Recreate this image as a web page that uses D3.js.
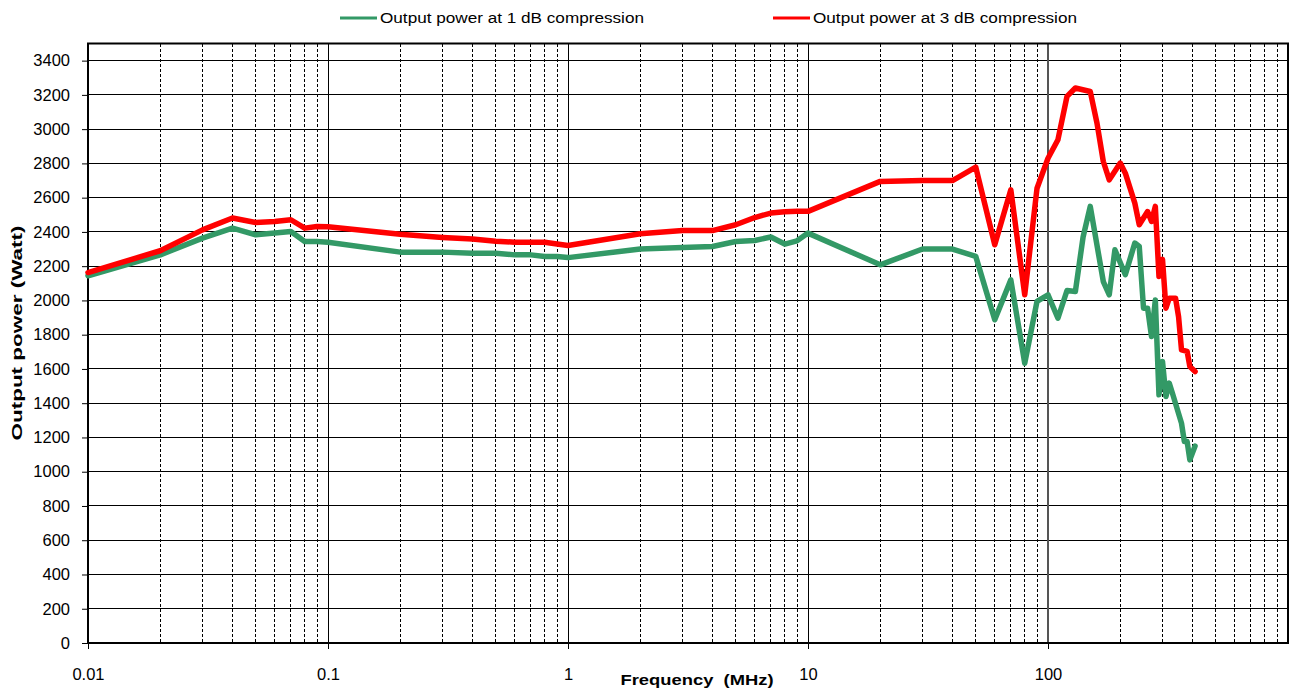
<!DOCTYPE html>
<html>
<head>
<meta charset="utf-8">
<script src="https://cdn.jsdelivr.net/npm/d3@7"></script>
<style>
  body { margin: 0; background: #fff; }
  text { font-family: "Liberation Sans", Arial, sans-serif; }
</style>
</head>
<body>
<div id="my_dataviz"></div>
<script>
  // data (frequency in MHz, power in Watt)
  const freq1dB = [0.01, 0.02, 0.03, 0.04, 0.05, 0.06, 0.07, 0.08, 0.09, 0.1,
    0.2, 0.3, 0.4, 0.5, 0.6, 0.7, 0.8, 0.9, 1, 2, 3, 4, 5, 6, 7, 8, 9, 10,
    20, 30, 40, 50, 60, 70, 80, 90, 100, 110, 120, 130, 140, 150, 170, 180, 190,
    210, 230, 240, 250, 260, 270, 280, 290, 300, 310, 320, 330, 360, 370, 380, 390, 410]
  const power1dB = [2144, 2266, 2364, 2422, 2383, 2393, 2403, 2344, 2344, 2340,
    2282, 2282, 2276, 2276, 2266, 2266, 2257, 2257, 2250, 2300, 2309, 2315, 2344, 2350, 2370, 2329, 2348, 2393,
    2208, 2300, 2300, 2257, 1887, 2120, 1633, 1995, 2033, 1896, 2058, 2052, 2370, 2549, 2110, 2033, 2296,
    2150, 2335, 2315, 1955, 1955, 1789, 2003, 1449, 1643, 1439, 1517, 1458, 1283, 1176, 1176, 1069, 1150]

  const freq3dB = [0.01, 0.02, 0.03, 0.04, 0.05, 0.06, 0.07, 0.08, 0.09, 0.1,
    0.2, 0.3, 0.4, 0.5, 0.6, 0.7, 0.8, 0.9, 1, 2, 3, 4, 5, 6, 7, 8, 9, 10,
    20, 30, 40, 50, 60, 70, 80, 90, 100, 110, 120, 130, 150, 160, 170, 180,
    200, 210, 230, 240, 260, 270, 280, 290, 300, 310, 320, 340, 350, 360, 380, 390, 410]
  const power3dB = [2163, 2290, 2412, 2481, 2455, 2461, 2471, 2422, 2432, 2430,
    2387, 2368, 2358, 2346, 2340, 2340, 2340, 2330, 2321, 2389, 2408, 2408, 2442, 2484, 2510, 2518, 2520, 2520,
    2695, 2700, 2700, 2778, 2325, 2646, 2033, 2655, 2830, 2938, 3191, 3240, 3220, 3035, 2811, 2704,
    2802, 2743, 2568, 2442, 2519, 2461, 2549, 2140, 2240, 1955, 2013, 2013, 1905, 1711, 1702, 1614, 1585]

  const seriesNames = ["Output power at 1 dB compression", "Output power at 3 dB compression"]
  const seriesColors = ["#339966", "#ff0000"]

  const xTickValues = [0.01, 0.1, 1, 10, 100]
  const xTickLabels = ["0.01", "0.1", "1", "10", "100"]
  const yTickValues = [0, 200, 400, 600, 800, 1000, 1200, 1400, 1600, 1800, 2000,
    2200, 2400, 2600, 2800, 3000, 3200, 3400]

  // set the dimensions and margins of the graph
  const margin = { top: 43.5, right: 2, bottom: 45, left: 88 },
    width = 1290 - margin.left - margin.right,
    height = 688 - margin.top - margin.bottom;

  const root = d3.select("#my_dataviz")
    .append("svg")
    .attr("width", 1290)
    .attr("height", 688)

  const svg = root.append("g")
    .attr("transform", `translate(${margin.left},${margin.top})`);

  const x = d3.scaleLog()
    .domain([0.01, 1000])
    .range([0, width]);

  const y = d3.scaleLinear()
    .domain([0, 3500])
    .range([height, 0]);

  // horizontal grid
  svg.append("g")
    .attr("shape-rendering", "crispEdges")
    .selectAll("line")
    .data(yTickValues.filter(d => d > 0))
    .join("line")
    .attr("x1", 0).attr("x2", width)
    .attr("y1", d => y(d)).attr("y2", d => y(d))
    .attr("stroke", "#000")
    .attr("stroke-width", 1);

  // vertical grid: dashed minor lines, solid at decades
  const allX = x.ticks().filter(d => d > 0.01 && d < 1000)
  svg.append("g")
    .attr("shape-rendering", "crispEdges")
    .selectAll("line")
    .data(allX)
    .join("line")
    .attr("x1", d => x(d)).attr("x2", d => x(d))
    .attr("y1", 0).attr("y2", height)
    .attr("stroke", d => d === 100 ? "#555" : "#000")
    .attr("stroke-width", d => d === 100 ? 1.5 : 1)
    .attr("stroke-dasharray", d => xTickValues.includes(d) ? null : "3,2");

  // X axis
  const xAxis = svg.append("g")
    .attr("transform", `translate(0, ${height})`)
    .call(d3.axisBottom(x)
      .tickValues(xTickValues)
      .tickFormat((d, i) => xTickLabels[i])
      .tickSize(6)
      .tickPadding(19)
      .tickSizeOuter(0))
    .style("font-size", "16.5px")
    .style("font-family", "Liberation Sans, Arial, sans-serif");
  xAxis.select(".domain").remove()
  xAxis.selectAll(".tick line").attr("stroke", "#000")
  xAxis.selectAll(".tick text").attr("fill", "#000")

  // Y axis
  const yAxis = svg.append("g")
    .call(d3.axisLeft(y)
      .tickValues(yTickValues)
      .tickFormat(d3.format("d"))
      .tickSize(6)
      .tickPadding(12)
      .tickSizeOuter(0))
    .style("font-size", "16.5px")
    .style("font-family", "Liberation Sans, Arial, sans-serif");
  yAxis.select(".domain").remove()
  yAxis.selectAll(".tick line").attr("stroke", "#000")
  yAxis.selectAll(".tick text").attr("fill", "#000")

  // plot frame
  svg.append("rect")
    .attr("x", 0).attr("y", 0)
    .attr("width", width).attr("height", height)
    .attr("fill", "none")
    .attr("stroke", "#000")
    .attr("stroke-width", 2);

  // the lines
  const line = d3.line()
    .x(d => x(d[0]))
    .y(d => y(d[1]));

  const series = [
    d3.zip(freq1dB, power1dB),
    d3.zip(freq3dB, power3dB)
  ]

  svg.append("g")
    .selectAll("path")
    .data(series)
    .join("path")
    .attr("d", d => line(d))
    .attr("fill", "none")
    .attr("stroke", (d, i) => seriesColors[i])
    .attr("stroke-width", 5.5)
    .attr("stroke-linejoin", "round")
    .attr("stroke-linecap", "round");

  // axis titles
  root.append("text")
    .attr("x", 697)
    .attr("y", 685)
    .attr("text-anchor", "middle")
    .attr("textLength", 153)
    .attr("lengthAdjust", "spacingAndGlyphs")
    .style("font-size", "15px")
    .style("font-weight", "bold")
    .text("Frequency\u00a0\u00a0(MHz)");

  root.append("text")
    .attr("transform", "translate(22, 333) rotate(-90)")
    .attr("text-anchor", "middle")
    .attr("textLength", 215)
    .attr("lengthAdjust", "spacingAndGlyphs")
    .style("font-size", "15px")
    .style("font-weight", "bold")
    .text("Output power (Watt)");

  // legend
  const legendX = [340, 773]
  const legend = root.append("g")
    .selectAll("g")
    .data(seriesNames)
    .join("g")
    .attr("transform", (d, i) => `translate(${legendX[i]}, 18)`);
  legend.append("line")
    .attr("x1", 0).attr("x2", 37)
    .attr("y1", 0).attr("y2", 0)
    .attr("stroke", (d, i) => seriesColors[i])
    .attr("stroke-width", 3);
  legend.append("text")
    .attr("x", 40)
    .attr("y", 5)
    .attr("textLength", 264)
    .attr("lengthAdjust", "spacingAndGlyphs")
    .style("font-size", "14px")
    .text(d => d);
</script>
</body>
</html>
